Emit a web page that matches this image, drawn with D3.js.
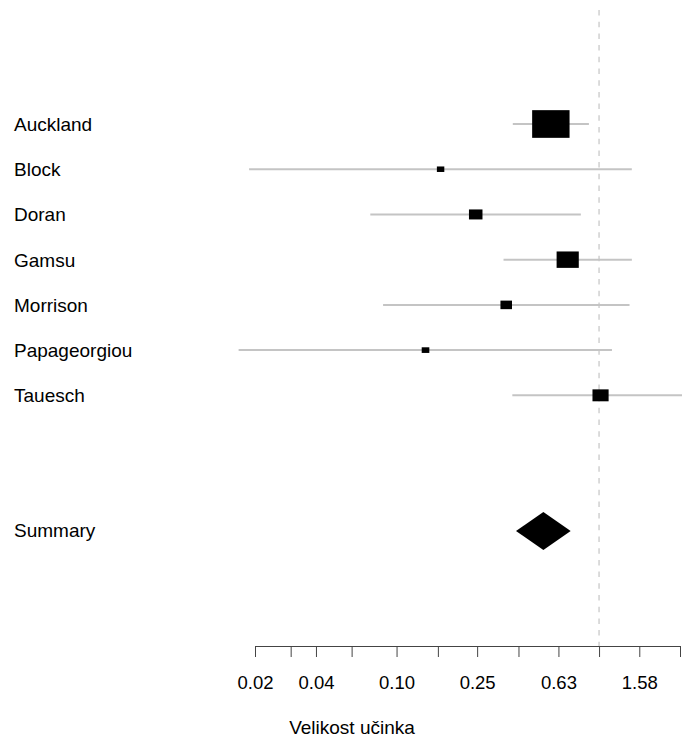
<!DOCTYPE html>
<html>
<head>
<meta charset="utf-8">
<script src="https://cdn.jsdelivr.net/npm/d3@7"></script>
<style>
  html, body { margin: 0; padding: 0; background: #fff; }
  svg { display: block; }
  text { font-family: "Liberation Sans", Arial, Helvetica, sans-serif; fill: #000; }
</style>
</head>
<body>
<svg id="chart" width="682" height="742"></svg>
<script>
// ---- data (odds ratios) ----
const studies = ["Auckland", "Block", "Doran", "Gamsu", "Morrison", "Papageorgiou", "Tauesch"];
const estimate = [0.578, 0.165, 0.246, 0.700, 0.348, 0.139, 1.017];
const lower    = [0.375, 0.0187, 0.0742, 0.3375, 0.0858, 0.0166, 0.373];
const upper    = [0.891, 1.451, 0.813, 1.452, 1.414, 1.158, 2.774];
const summaryLabel = "Summary";
const summaryEst = 0.531, summaryLower = 0.389, summaryUpper = 0.724;
const tickValues = [0.02, 0.03, 0.04, 0.06, 0.10, 0.16, 0.25, 0.40, 0.63, 1.00, 1.58, 2.51];
const tickLabels = ["0.02", "", "0.04", "", "0.10", "", "0.25", "", "0.63", "", "1.58", ""];
const xLabel = "Velikost učinka";
const nullValue = 1;

// ---- layout ----
const svg = d3.select("#chart");
const x = d3.scaleLog().domain([0.02, 2.51]).range([255, 680]);
const y = d3.scaleLinear().domain([0, 9]).range([124, 531]);
const axisY = 646;
const labelSize = 19;
const tickSize = 18.5;

const se = estimate.map((d, i) => (Math.log(upper[i]) - Math.log(lower[i])) / 3.92);
const weight = se.map(s => 1 / s);
const size = d3.scaleLinear().domain([0, d3.max(weight)]).range([0, 37.4]);
const aspect = 0.74;

// zero (null) line
svg.append("line")
  .attr("x1", x(nullValue)).attr("x2", x(nullValue))
  .attr("y1", 10).attr("y2", axisY)
  .attr("stroke", "#d3d3d3").attr("stroke-width", 1.6)
  .attr("stroke-dasharray", "5.5,6.2");

// CI lines
svg.append("g").selectAll("line").data(studies).join("line")
  .attr("x1", (d, i) => x(lower[i]))
  .attr("x2", (d, i) => x(upper[i]))
  .attr("y1", (d, i) => y(i)).attr("y2", (d, i) => y(i))
  .attr("stroke", "#c4c4c4").attr("stroke-width", 2);

// boxes
svg.append("g").selectAll("rect").data(studies).join("rect")
  .attr("x", (d, i) => x(estimate[i]) - size(weight[i]) / 2)
  .attr("y", (d, i) => y(i) - size(weight[i]) * aspect / 2)
  .attr("width", (d, i) => size(weight[i]))
  .attr("height", (d, i) => size(weight[i]) * aspect)
  .attr("fill", "#000");

// summary diamond
const sy = y(9), dh = 19;
svg.append("polygon")
  .attr("points", [
    [x(summaryLower), sy], [x(summaryEst), sy - dh],
    [x(summaryUpper), sy], [x(summaryEst), sy + dh]
  ].map(p => p.join(",")).join(" "))
  .attr("fill", "#000");

// labels
svg.append("g").selectAll("text").data(studies).join("text")
  .attr("x", 14).attr("y", (d, i) => y(i))
  .attr("dy", "0.36em")
  .attr("font-size", labelSize)
  .text(d => d);
svg.append("text")
  .attr("x", 14).attr("y", sy - 1).attr("dy", "0.36em")
  .attr("font-size", labelSize)
  .text(summaryLabel);

// axis
const axis = d3.axisBottom(x)
  .tickValues(tickValues)
  .tickFormat((d, i) => tickLabels[i])
  .tickSizeOuter(0)
  .tickSizeInner(11)
  .tickPadding(19);
const gAxis = svg.append("g").attr("transform", `translate(0,${axisY})`).call(axis);
gAxis.select(".domain").attr("stroke", "#444").attr("stroke-width", 1)
  .attr("d", `M${x(tickValues[0])},0.5H${x(tickValues[tickValues.length - 1])}`);
gAxis.selectAll(".tick line").attr("stroke", "#444");
gAxis.selectAll(".tick text")
  .attr("font-size", tickSize)
  .attr("font-family", '"Liberation Sans", Arial, Helvetica, sans-serif')
  .attr("fill", "#000");

svg.append("text")
  .attr("x", 352).attr("y", 734)
  .attr("text-anchor", "middle")
  .attr("font-size", labelSize)
  .text(xLabel);
</script>
</body>
</html>
